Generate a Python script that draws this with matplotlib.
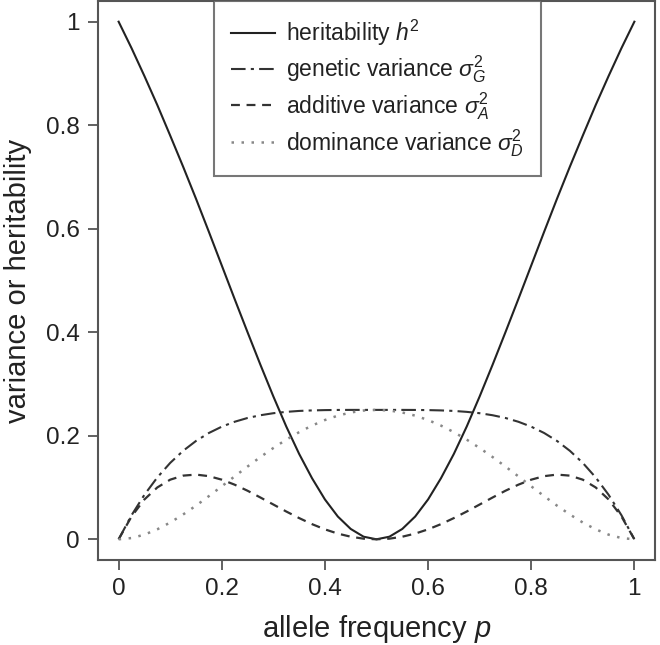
import matplotlib
matplotlib.use("Agg")
import matplotlib.pyplot as plt

plt.rcParams['font.family'] = ['Liberation Sans', 'DejaVu Sans']
plt.rcParams['mathtext.fontset'] = 'custom'
plt.rcParams['mathtext.rm'] = 'Liberation Sans'
plt.rcParams['mathtext.it'] = 'Liberation Sans:italic'
plt.rcParams['mathtext.bf'] = 'Liberation Sans:bold'

# allele frequency p (0 .. 0.5, mirrored to 1)
p_half = [0.0, 0.025, 0.05, 0.075, 0.1, 0.125, 0.15, 0.175, 0.2, 0.225, 0.25,
          0.275, 0.3, 0.325, 0.35, 0.375, 0.4, 0.425, 0.45, 0.475, 0.5]
# heritability h^2 (left half)
h2_half = [1.0, 0.949, 0.895, 0.839, 0.780, 0.720, 0.658, 0.594, 0.529, 0.464,
           0.400, 0.337, 0.276, 0.218, 0.165, 0.118, 0.077, 0.044, 0.020, 0.005, 0.0]
# genetic variance
vg_half = [0.0, 0.0464, 0.0860, 0.1195, 0.1476, 0.1709, 0.1900, 0.2054, 0.2176, 0.2271,
           0.2344, 0.2397, 0.2436, 0.2462, 0.2480, 0.2490, 0.2496, 0.2499, 0.2500, 0.2500, 0.25]
# additive variance
va_half = [0.0, 0.0440, 0.0770, 0.1002, 0.1152, 0.1230, 0.1250, 0.1220, 0.1152, 0.1055,
           0.0938, 0.0807, 0.0672, 0.0537, 0.0410, 0.0293, 0.0192, 0.0110, 0.0050, 0.0012, 0.0]
# dominance variance
vd_half = [0.0, 0.0024, 0.0090, 0.0193, 0.0324, 0.0479, 0.0650, 0.0834, 0.1024, 0.1216,
           0.1406, 0.1590, 0.1764, 0.1925, 0.2070, 0.2197, 0.2304, 0.2389, 0.2450, 0.2488, 0.25]

p = p_half + [round(1 - v, 3) for v in p_half[-2::-1]]
h2 = h2_half + h2_half[-2::-1]
vg = vg_half + vg_half[-2::-1]
va = va_half + va_half[-2::-1]
vd = vd_half + vd_half[-2::-1]

labels = [r'heritability $h^2$', r'genetic variance $\sigma_G^2$',
          r'additive variance $\sigma_A^2$', r'dominance variance $\sigma_D^2$']
ticks = [0, 0.2, 0.4, 0.6, 0.8, 1]
tick_labels = ['0', '0.2', '0.4', '0.6', '0.8', '1']

fig = plt.figure(figsize=(6.6, 6.45), dpi=100)
ax = fig.add_axes([98/660, 1 - 560/645, (655-98)/660, (560-1)/645])

ax.plot(p, h2, color='#222222', lw=1.5, ls='-', label=labels[0])
ax.plot(p, vg, color='#333333', lw=1.5, ls=(0, (7, 2.5, 1.5, 2.5)), label=labels[1])
ax.plot(p, va, color='#333333', lw=1.6, ls=(0, (4, 3)), label=labels[2])
ax.plot(p, vd, color='#888888', lw=1.8, ls=(0, (1, 3)), label=labels[3])

ax.set_xlim(-0.04, 1.04)
ax.set_ylim(-0.04, 1.04)
ax.set_xticks(ticks)
ax.set_xticklabels(tick_labels)
ax.set_yticks(ticks)
ax.set_yticklabels(tick_labels)
ax.tick_params(direction='out', length=7, width=1.3, color='#555555',
               labelsize=17.5, labelcolor='#222222', pad=6)
for s in ax.spines.values():
    s.set_color('#555555')
    s.set_linewidth(1.5)

ax.set_xlabel(r'allele frequency $p$', fontsize=21, color='#222222', labelpad=9)
ax.set_ylabel('variance or heritability', fontsize=21, color='#222222', labelpad=10)

leg = ax.legend(loc='upper center', fontsize=16.5, frameon=True, fancybox=False,
                borderaxespad=0, handlelength=1.9, handletextpad=0.5,
                labelspacing=0.22, borderpad=0.75, bbox_to_anchor=(0.502, 1.0))
leg.get_frame().set_edgecolor('#555555')
leg.get_frame().set_linewidth(1.5)
for t in leg.get_texts():
    t.set_color('#222222')

fig.savefig('out.png', dpi=100)
